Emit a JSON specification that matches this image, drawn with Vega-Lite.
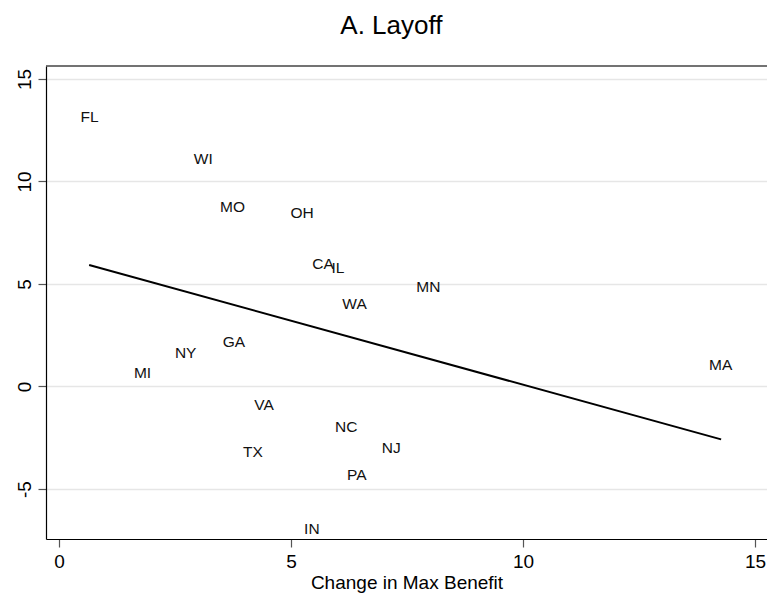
{
  "$schema": "https://vega.github.io/schema/vega-lite/v6.json",
  "width": 721,
  "height": 473,
  "autosize": {"type": "none"},
  "padding": {"left": 46, "top": 66, "right": 0, "bottom": 56},
  "background": "white",
  "title": {
    "text": "A. Layoff",
    "fontSize": 26,
    "font": "Liberation Sans",
    "fontWeight": "normal",
    "color": "black",
    "frame": "bounds",
    "anchor": "middle",
    "baseline": "alphabetic",
    "offset": 5
  },
  "config": {"view": {"stroke": null}, "font": "Liberation Sans"},
  "datasets": {
    "states": [
      {"state": "FL", "benefit_change": 0.66, "layoff_change": 13.16},
      {"state": "WI", "benefit_change": 3.11, "layoff_change": 11.10},
      {"state": "MO", "benefit_change": 3.74, "layoff_change": 8.78},
      {"state": "OH", "benefit_change": 5.24, "layoff_change": 8.45},
      {"state": "CA", "benefit_change": 5.69, "layoff_change": 5.96},
      {"state": "IL", "benefit_change": 6.01, "layoff_change": 5.77},
      {"state": "MN", "benefit_change": 7.96, "layoff_change": 4.87},
      {"state": "WA", "benefit_change": 6.37, "layoff_change": 4.02},
      {"state": "GA", "benefit_change": 3.77, "layoff_change": 2.19},
      {"state": "NY", "benefit_change": 2.73, "layoff_change": 1.62},
      {"state": "MI", "benefit_change": 1.80, "layoff_change": 0.64},
      {"state": "MA", "benefit_change": 14.26, "layoff_change": 1.05},
      {"state": "VA", "benefit_change": 4.42, "layoff_change": -0.90},
      {"state": "NC", "benefit_change": 6.19, "layoff_change": -1.96},
      {"state": "NJ", "benefit_change": 7.16, "layoff_change": -3.02},
      {"state": "TX", "benefit_change": 4.18, "layoff_change": -3.18},
      {"state": "PA", "benefit_change": 6.42, "layoff_change": -4.32},
      {"state": "IN", "benefit_change": 5.45, "layoff_change": -6.95}
    ],
    "fit": [
      {"benefit_change": 0.65, "layoff_change": 5.93},
      {"benefit_change": 14.27, "layoff_change": -2.58}
    ],
    "frame": [
      {"top": 15.634}
    ]
  },
  "layer": [
    {
      "data": {"name": "states"},
      "mark": {"type": "text", "fontSize": 15.5, "align": "center", "baseline": "middle", "color": "#111111", "font": "Liberation Sans"},
      "encoding": {
        "x": {
          "field": "benefit_change",
          "type": "quantitative",
          "scale": {"domain": [-0.28, 15.259], "nice": false, "zero": false},
          "axis": {
            "title": "Change in Max Benefit",
            "values": [0, 5, 10, 15],
            "grid": false,
            "domainColor": "black",
            "domainWidth": 1.2,
            "tickColor": "#555555",
            "tickSize": 8,
            "tickWidth": 1.2,
            "labelFontSize": 19,
            "labelColor": "black",
            "labelPadding": 5,
            "labelFont": "Liberation Sans",
            "titleFont": "Liberation Sans",
            "titleFontSize": 19,
            "titleFontWeight": "normal",
            "titleColor": "black",
            "titlePadding": 2
          }
        },
        "y": {
          "field": "layoff_change",
          "type": "quantitative",
          "scale": {"domain": [-7.439, 15.634], "nice": false, "zero": false},
          "axis": {
            "title": null,
            "values": [-5, 0, 5, 10, 15],
            "labelExpr": "'' + datum.value",
            "grid": true,
            "gridColor": "#e6e6e6",
            "gridWidth": 1.5,
            "domainColor": "black",
            "domainWidth": 1.2,
            "tickColor": "#555555",
            "tickSize": 8,
            "tickWidth": 1.2,
            "labelAngle": 270,
            "labelAlign": "center",
            "labelBaseline": "bottom",
            "labelFontSize": 19,
            "labelColor": "black",
            "labelPadding": 4,
            "labelFont": "Liberation Sans"
          }
        },
        "text": {"field": "state", "type": "nominal"}
      }
    },
    {
      "data": {"name": "fit"},
      "mark": {"type": "line", "color": "black", "strokeWidth": 2},
      "encoding": {
        "x": {"field": "benefit_change", "type": "quantitative"},
        "y": {"field": "layoff_change", "type": "quantitative"}
      }
    },
    {
      "data": {"name": "frame"},
      "mark": {"type": "rule", "color": "#444444", "strokeWidth": 1.5},
      "encoding": {
        "y": {"field": "top", "type": "quantitative"}
      }
    }
  ]
}
